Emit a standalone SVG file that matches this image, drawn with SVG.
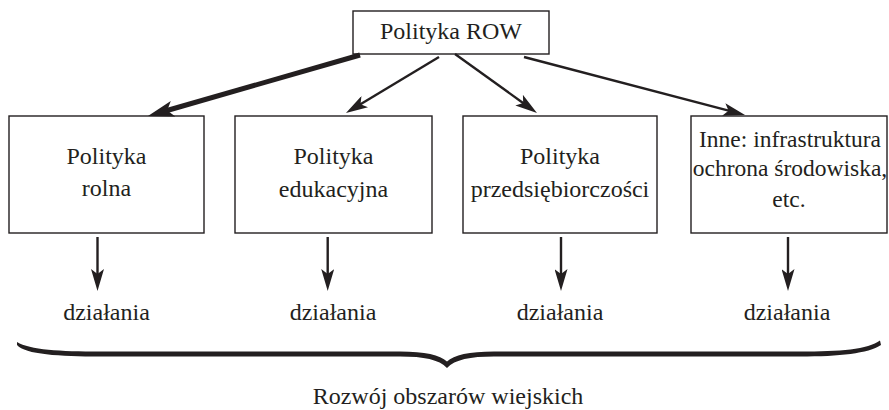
<svg xmlns="http://www.w3.org/2000/svg" width="889" height="410" viewBox="0 0 889 410">
<style>
  .box { fill: #ffffff; stroke: #231f20; stroke-width: 1.4; }
  .t { font-family: 'Liberation Serif', Tinos, 'Times New Roman', Times, 'DejaVu Serif', serif; font-size: 24px; fill: #231f20; text-anchor: middle; }
  .t4 { font-size: 23.5px; }
  .conn { stroke: #231f20; stroke-width: 2.4; fill: none; }
  .thick { stroke-width: 5; }
</style>
<defs>
  <marker id="head" viewBox="0 0 22 13" refX="7" refY="6.5" markerWidth="22" markerHeight="13" markerUnits="userSpaceOnUse" orient="auto">
    <path d="M0,0 L22,6.5 L0,13 L5,6.5 Z" fill="#231f20"/>
  </marker>
  <marker id="headBig" viewBox="0 0 26 16" refX="8" refY="8" markerWidth="26" markerHeight="16" markerUnits="userSpaceOnUse" orient="auto">
    <path d="M0,0 L26,8 L0,16 L6,8 Z" fill="#231f20"/>
  </marker>
</defs>

<g id="node-row">
  <rect class="box" x="353" y="11" width="196" height="43"/>
  <text class="t" x="451" y="39" font-family="Liberation Serif, serif">Polityka ROW</text>
</g>

<g id="node-rolna">
  <rect class="box" x="9" y="116" width="195" height="117"/>
  <text class="t" x="106.5" y="164">Polityka</text>
  <text class="t" x="106.5" y="196">rolna</text>
</g>

<g id="node-edukacyjna">
  <rect class="box" x="235" y="116" width="197" height="117"/>
  <text class="t" x="333.5" y="164">Polityka</text>
  <text class="t" x="333.5" y="197">edukacyjna</text>
</g>

<g id="node-przedsiebiorczosci">
  <rect class="box" x="463" y="116" width="194" height="117"/>
  <text class="t" x="560" y="164">Polityka</text>
  <text class="t" x="560" y="197">przedsiębiorczości</text>
</g>

<g id="node-inne">
  <rect class="box" x="691" y="116" width="196" height="117"/>
  <text class="t t4" x="790" y="147">Inne: infrastruktura</text>
  <text class="t t4" x="790" y="176">ochrona środowiska,</text>
  <text class="t t4" x="789" y="207">etc.</text>
</g>

<g id="actions">
  <text class="t" x="106.5" y="320">działania</text>
  <text class="t" x="333" y="320">działania</text>
  <text class="t" x="560" y="320">działania</text>
  <text class="t" x="787" y="320">działania</text>
</g>

<g id="brace">
  <path d="M17,342 C30,350 60,351.5 100,351.5 L400,351.5 C425,351.5 440,355 447,361.5 C454,355 469,351.5 494,351.5 L800,351.5 C840,351.5 868,349.5 880,340.5 L881,345 C868,353.5 840,356.5 800,356.5 L494,356.5 C470,356.5 455,359.5 447,368 C439,359.5 424,356.5 400,356.5 L100,356.5 C60,356.5 25,354.5 17,345 Z" fill="#231f20"/>
  <text class="t" x="448" y="404">Rozwój obszarów wiejskich</text>
</g>

<g id="connectors">
  <line class="conn thick" x1="360" y1="55" x2="165.3" y2="111" marker-end="url(#headBig)"/>
  <line class="conn" x1="439" y1="57" x2="358.8" y2="105.3" marker-end="url(#head)"/>
  <line class="conn" x1="455" y1="54" x2="524.8" y2="104.2" marker-end="url(#head)"/>
  <line class="conn" x1="524" y1="57" x2="730.5" y2="111.2" marker-end="url(#head)"/>
  <line class="conn" x1="97.5" y1="237" x2="97.5" y2="276" marker-end="url(#head)"/>
  <line class="conn" x1="327.7" y1="237" x2="327.7" y2="276" marker-end="url(#head)"/>
  <line class="conn" x1="561" y1="237" x2="561" y2="276" marker-end="url(#head)"/>
  <line class="conn" x1="788" y1="237" x2="788" y2="276" marker-end="url(#head)"/>
</g>
</svg>
